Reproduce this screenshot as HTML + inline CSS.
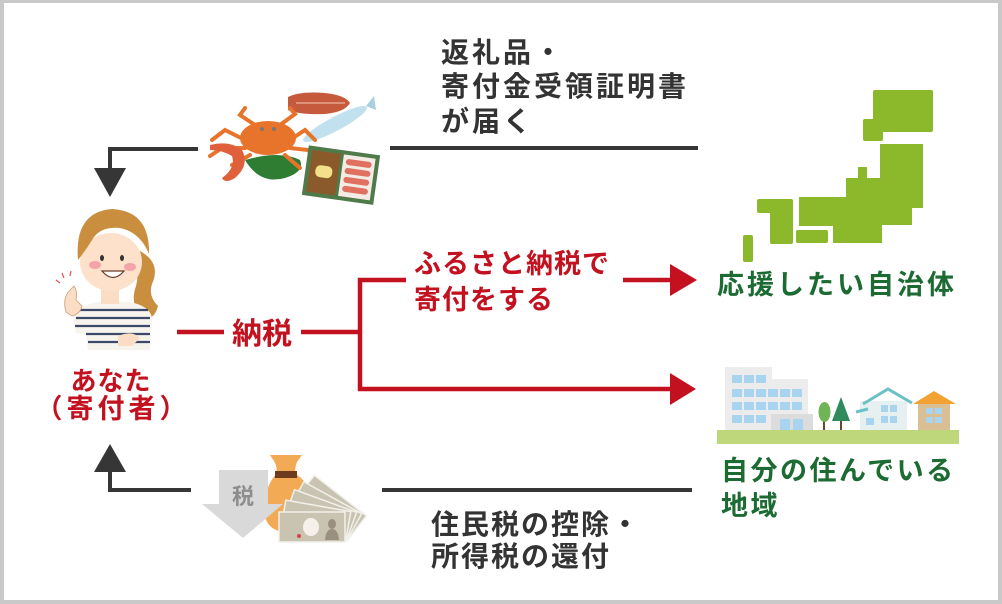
<!DOCTYPE html>
<html><head><meta charset="utf-8">
<style>
html,body{margin:0;padding:0;background:#fff;}
svg{display:block;}
text{font-family:"Liberation Sans","Noto Sans CJK JP",sans-serif;font-weight:bold;}
</style></head>
<body>
<svg width="1002" height="604" viewBox="0 0 1002 604" xmlns="http://www.w3.org/2000/svg">
<rect width="1002" height="604" fill="#c9c9c9"/>
<rect x="4" y="3" width="994" height="597" fill="#fff"/>

<!-- dark connectors -->
<g fill="none" stroke="#363636" stroke-width="4">
<polyline points="198,149 110,149 110,170"/>
<polyline points="191,490 110,490 110,470"/>
<line x1="390" y1="148" x2="698" y2="148"/>
<line x1="382" y1="490" x2="692" y2="490"/>
</g>
<polygon points="94,168 126,168 110,197" fill="#363636"/>
<polygon points="94,472 126,472 110,444" fill="#363636"/>

<!-- red connectors -->
<g stroke="#c3111f" stroke-width="4.5" fill="none">
<line x1="177" y1="332" x2="224" y2="332"/>
<line x1="301" y1="332" x2="360" y2="332"/>
<polyline points="406,280 360,280 360,389 672,389"/>
<line x1="623" y1="280" x2="672" y2="280"/>
</g>
<polygon points="670,264 697,280 670,296" fill="#c3111f"/>
<polygon points="670,373 696,389 670,405" fill="#c3111f"/>

<!-- texts -->
<g fill="#333" font-size="28" letter-spacing="3">
<text x="441" y="62">返礼品・</text>
<text x="441" y="96">寄付金受領証明書</text>
<text x="441" y="131">が届く</text>
</g>
<g fill="#333" font-size="28" letter-spacing="2">
<text x="431" y="534">住民税の控除・</text>
<text x="431" y="566">所得税の還付</text>
</g>
<g fill="#c3111f">
<text x="232" y="344" font-size="30">納税</text>
<text x="414" y="273" font-size="27" letter-spacing="1">ふるさと納税で</text>
<text x="414" y="309" font-size="27" letter-spacing="1">寄付をする</text>
<text x="111" y="390" font-size="26" text-anchor="middle" letter-spacing="1">あなた</text>
<text x="113" y="418" font-size="27" text-anchor="middle" letter-spacing="4">（寄付者）</text>
</g>
<g fill="#1c6b32" font-size="27" letter-spacing="3">
<text x="717" y="294">応援したい自治体</text>
<text x="721" y="480" letter-spacing="2.5">自分の住んでいる</text>
<text x="721" y="515" letter-spacing="2.5">地域</text>
</g>

<!-- Japan map -->
<g fill="#8cb82b">
<rect x="873" y="90" width="60" height="42" rx="2"/>
<rect x="863" y="119" width="20" height="22" rx="2"/>
<polygon points="799,197 846,197 846,178 858,178 858,167 867,167 867,178 880,178 880,144 923,144 923,208 912,208 912,225 882,225 882,243 833,243 833,226 799,226"/>
<rect x="796" y="230" width="32" height="13" rx="2"/>
<rect x="757" y="199" width="36" height="14" rx="2"/>
<rect x="770" y="199" width="23" height="45" rx="2"/>
<rect x="743" y="235" width="10" height="27" rx="2"/>
</g>

<!-- town -->
<g>
<rect x="725" y="367" width="47" height="63" fill="#ececec"/>
<rect x="725" y="379" width="83" height="51" fill="#ececec"/>
<rect x="771" y="414" width="42" height="16" fill="#dcdcdc"/>
<g fill="#a9d4ef">
<rect x="732" y="375" width="10" height="8"/><rect x="744" y="375" width="10" height="8"/><rect x="756" y="375" width="10" height="8"/>
<rect x="732" y="389" width="10" height="8"/><rect x="744" y="389" width="10" height="8"/><rect x="756" y="389" width="10" height="8"/><rect x="768" y="389" width="10" height="8"/><rect x="780" y="389" width="10" height="8"/><rect x="792" y="389" width="10" height="8"/>
<rect x="732" y="402" width="10" height="8"/><rect x="744" y="402" width="10" height="8"/><rect x="756" y="402" width="10" height="8"/><rect x="768" y="402" width="10" height="8"/><rect x="780" y="402" width="10" height="8"/><rect x="792" y="402" width="10" height="8"/>
<rect x="732" y="415" width="10" height="8"/><rect x="744" y="415" width="10" height="8"/><rect x="756" y="415" width="10" height="8"/>
<rect x="780" y="419" width="10" height="11"/><rect x="793" y="419" width="10" height="11"/>
</g>
<rect x="823" y="415" width="2" height="15" fill="#6b4a2a"/>
<ellipse cx="824.5" cy="412" rx="6" ry="10" fill="#6fb556"/>
<rect x="840" y="415" width="2" height="15" fill="#6b4a2a"/>
<polygon points="841,397 850,421 832,421" fill="#2f8a5c"/>
<rect x="860" y="401" width="47" height="29" fill="#e6f0f0"/>
<polyline points="863,404 888,389 912,403" fill="none" stroke="#6cc0c8" stroke-width="3"/>
<line x1="856" y1="412" x2="868" y2="409" stroke="#6cc0c8" stroke-width="3"/>
<g fill="#a9d4ef">
<rect x="881" y="405" width="7" height="7"/><rect x="890" y="405" width="7" height="7"/>
<rect x="881" y="416" width="7" height="7"/><rect x="890" y="416" width="7" height="7"/>
<rect x="866" y="418" width="8" height="7"/>
</g>
<rect x="918" y="402" width="32" height="28" fill="#dbbf94"/>
<polygon points="913,404 934,391 956,404" fill="#f1a233"/>
<g fill="#a9d4ef">
<rect x="926" y="408" width="7" height="6"/><rect x="935" y="408" width="7" height="6"/>
<rect x="926" y="417" width="7" height="6"/><rect x="935" y="417" width="7" height="6"/>
</g>
<rect x="717" y="430" width="242" height="14" fill="#bdd77a"/>
</g>

<!-- money -->
<g>
<path d="M270,455 L302,455 L297,462 Q294,470 296,474 Q318,490 316,515 Q314,532 290,533 Q266,532 264,512 Q264,488 276,474 Q278,468 274,461 Z" fill="#f2aa55"/>
<rect x="275" y="471" width="22" height="7" fill="#6e3b1f"/>
<polygon points="219,470 268,470 268,504 283,504 243,538 202,504 219,504" fill="#d9d9d9"/>
<text x="243" y="504" font-size="22" fill="#8e8e8e" text-anchor="middle">税</text>
<g stroke="#f2f0ea" stroke-width="1.5" fill="#c9c4b2">
<rect x="279" y="512" width="66" height="30" transform="rotate(38 350 545)"/>
<rect x="279" y="512" width="66" height="30" transform="rotate(29 350 545)"/>
<rect x="279" y="512" width="66" height="30" transform="rotate(20 350 545)"/>
<rect x="279" y="512" width="66" height="30" transform="rotate(10 350 545)"/>
<rect x="279" y="512" width="66" height="30"/>
</g>
<ellipse cx="311" cy="527" rx="8" ry="9" fill="#f3f1ea"/>
<ellipse cx="332" cy="524" rx="4" ry="5" fill="#9a9080"/>
<path d="M325,540 Q326,529 332,529 Q338,529 339,540 Z" fill="#9a9080"/>
<circle cx="299" cy="536" r="2" fill="#d9434a"/>
</g>

<!-- food -->
<g>
<path d="M288,97 Q300,91 325,93 Q345,95 350,103 Q345,112 325,114 Q300,115 288,110 Z" fill="#c65a3c"/>
<path d="M296,103 L345,103" stroke="#e9a58c" stroke-width="1.5"/>
<ellipse cx="335" cy="124" rx="36" ry="7" fill="#c2e1ee" transform="rotate(-28 335 124)"/>
<polygon points="366,106 374,96 376,110" fill="#a9d0e0"/>
<path d="M245,160 Q260,185 285,178 Q305,172 300,160 Q280,150 245,160 Z" fill="#2f7d32"/>
<g stroke="#e8742c" stroke-width="4" fill="none" stroke-linecap="round">
<path d="M245,140 L225,130 L212,140"/><path d="M245,148 L222,148 L210,156"/><path d="M250,155 L232,165"/>
<path d="M290,140 L305,130 L315,140"/><path d="M290,148 L308,150 L318,160"/><path d="M285,155 L300,168"/>
<path d="M255,125 L240,115 L245,108"/><path d="M280,125 L295,114 L290,108"/>
</g>
<ellipse cx="268" cy="138" rx="28" ry="17" fill="#e8742c"/>
<circle cx="262" cy="129" r="2" fill="#777"/><circle cx="274" cy="129" r="2" fill="#777"/>
<path d="M210,145 Q230,140 242,150 Q250,165 235,178 Q225,184 222,178 Q236,168 232,156 Q222,150 210,150 Z" fill="#e0603c"/>
<g transform="rotate(8 340 175)">
<rect x="305" y="150" width="72" height="50" fill="#4f7a4a"/>
<rect x="309" y="154" width="29" height="42" fill="#8a5a2a"/>
<rect x="315" y="168" width="17" height="12" rx="5" fill="#f2e08a"/>
<rect x="341" y="154" width="32" height="42" fill="#f3ece4"/>
<g fill="#e07060">
<rect x="344" y="158" width="26" height="6" rx="3"/>
<rect x="344" y="167" width="26" height="6" rx="3"/>
<rect x="344" y="176" width="26" height="6" rx="3"/>
<rect x="344" y="185" width="26" height="6" rx="3"/>
</g>
</g>
</g>

<!-- person -->
<g>
<path d="M138,250 Q162,262 152,284 Q148,296 158,306 Q154,322 140,318 Q130,302 136,286 Q140,272 132,262 Z" fill="#c98f3e"/>
<path d="M73,316 Q78,305 98,302 L130,302 Q150,306 152,318 L150,350 L88,350 L86,335 L76,333 Z" fill="#f7f4ee"/>
<g stroke="#3d4b6b" stroke-width="2.2">
<line x1="80" y1="310" x2="148" y2="310"/>
<line x1="76" y1="318" x2="150" y2="318"/>
<line x1="75" y1="326" x2="150" y2="326"/>
<line x1="86" y1="334" x2="150" y2="334"/>
<line x1="88" y1="342" x2="150" y2="342"/>
</g>
<path d="M118,336 Q132,330 140,338 L132,346 L118,346 Z" fill="#fbdcc4"/>
<rect x="101" y="284" width="18" height="20" fill="#fbdcc4"/>
<ellipse cx="111" cy="262" rx="31" ry="29" fill="#fde1cb"/>
<path d="M78,260 Q74,212 112,209 Q150,211 149,254 Q140,232 120,228 Q100,226 92,240 Q86,250 78,260 Z" fill="#c98f3e"/>
<ellipse cx="95" cy="265" rx="6" ry="4" fill="#f5a3a8"/>
<ellipse cx="130" cy="267" rx="6" ry="4" fill="#f5a3a8"/>
<ellipse cx="102" cy="258" rx="2" ry="3" fill="#333"/>
<ellipse cx="122" cy="258" rx="2" ry="3" fill="#333"/>
<path d="M102,271 Q113,284 124,271 Z" fill="#fff" stroke="#6a3b2a" stroke-width="1.2"/>
<path d="M66,312 Q62,298 70,290 L74,286 Q78,292 76,300 L82,306 Q80,314 72,316 Z" fill="#fbdcc4" stroke="#c9a080" stroke-width="0.8"/>
<g stroke="#e05050" stroke-width="1.2">
<line x1="60" y1="283" x2="56" y2="280"/><line x1="64" y1="278" x2="62" y2="273"/><line x1="70" y1="276" x2="71" y2="271"/>
</g>
</g>
</svg>
</body></html>
